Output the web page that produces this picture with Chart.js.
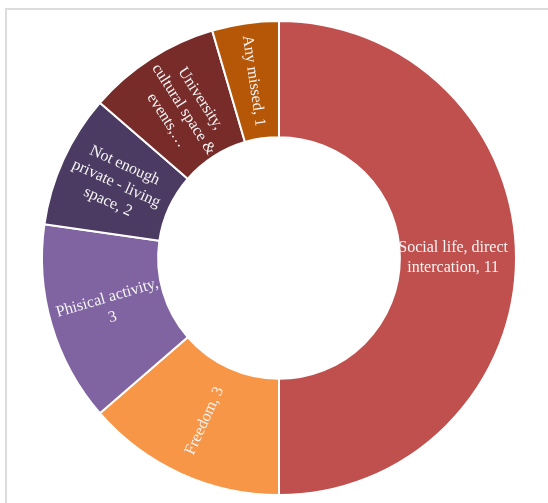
<!doctype html>
<html lang="en">
  <head>
    <meta charset="utf-8">
    <title>Doughnut</title>
    <style>
      * {
        margin: 0;
        padding: 0;
      }
      body {
        width: 548px;
        height: 503px;
        background: white;
        position: relative;
        overflow: hidden;
      }
      .frame {
        position: absolute;
        left: 5px;
        top: 8px;
        width: 600px;
        height: 600px;
        border-left: solid 2px #dcdcdc;
        border-top: solid 2px #dcdcdc;
      }
      .chartBox {
        position: absolute;
        left: 0;
        top: 0;
        width: 548px;
        height: 503px;
      }
    </style>
  </head>
  <body>
    <div class="frame"></div>
    <div class="chartBox">
      <canvas id="myChart" width="548" height="503"></canvas>
    </div>

    <script src="https://cdn.jsdelivr.net/npm/chart.js/dist/chart.umd.min.js"></script>
    <script>
    // data
    const categories = [
      'Social life, direct intercation',
      'Freedom',
      'Phisical activity',
      'Not enough private - living space',
      'University, cultural space & events, ...',
      'Any missed'
    ];
    const values = [11, 3, 3, 2, 2, 1];
    // label text as it is wrapped in the picture
    const labelLines = [
      ['Social life, direct', 'intercation, 11'],
      ['Freedom, 3'],
      ['Phisical activity,', '3'],
      ['Not enough', 'private - living', 'space, 2'],
      ['University,', 'cultural space &', 'events,…'],
      ['Any missed, 1']
    ];
    const colors = ['#c0504d', '#f79646', '#8064a2', '#4b3b63', '#772c2a', '#b65708'];

    // draws the rotated labels inside each slice
    const sliceLabels = {
      id: 'sliceLabels',
      afterDatasetsDraw(chart) {
        const { ctx } = chart;
        const meta = chart.getDatasetMeta(0);
        ctx.save();
        ctx.font = '16px "Liberation Serif", "Times New Roman", serif';
        ctx.fillStyle = '#f4f4f4';
        ctx.textAlign = 'center';
        ctx.textBaseline = 'middle';
        const lineH = 20;
        meta.data.forEach((arc, i) => {
          const p = arc.getProps(['x', 'y', 'startAngle', 'endAngle', 'innerRadius', 'outerRadius']);
          const mid = (p.startAngle + p.endAngle) / 2;
          let rot = mid + Math.PI;
          while (rot > Math.PI) rot -= 2 * Math.PI;
          while (rot <= -Math.PI) rot += 2 * Math.PI;
          if (rot > Math.PI / 2) rot -= Math.PI;
          if (rot < -Math.PI / 2) rot += Math.PI;
          const lines = labelLines[i];
          const w = Math.max(...lines.map(l => ctx.measureText(l).width));
          // pull long text inward a bit so it stays inside the ring
          let r = (p.innerRadius + p.outerRadius) / 2;
          const maxR = p.outerRadius - 8 - w / 2;
          if (r > maxR) r = maxR;
          const x = p.x + r * Math.cos(mid);
          const y = p.y + r * Math.sin(mid);
          ctx.save();
          ctx.translate(x, y);
          ctx.rotate(rot);
          lines.forEach((l, k) => {
            ctx.fillText(l, 0, (k - (lines.length - 1) / 2) * lineH);
          });
          ctx.restore();
        });
        ctx.restore();
      }
    };

    const config = {
      type: 'doughnut',
      data: {
        labels: categories,
        datasets: [{
          data: values,
          backgroundColor: colors,
          borderColor: '#ffffff',
          borderWidth: 2
        }]
      },
      options: {
        responsive: false,
        animation: false,
        cutout: '51%',
        layout: {
          padding: { left: 41, right: 31, top: 20, bottom: 7 }
        },
        plugins: {
          legend: { display: false },
          tooltip: { enabled: false }
        }
      },
      plugins: [sliceLabels]
    };

    const myChart = new Chart(document.getElementById('myChart'), config);
    </script>
  </body>
</html>
